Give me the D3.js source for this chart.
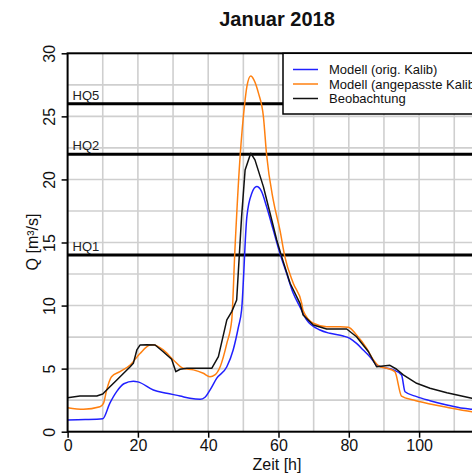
<!DOCTYPE html>
<html><head><meta charset="utf-8">
<script src="https://cdn.jsdelivr.net/npm/d3@7"></script>
<style>body{margin:0;background:#fff}svg{display:block}text{font-family:"Liberation Sans",Arial,sans-serif}</style>
</head><body>
<svg id="c" width="472" height="475"></svg>
<script>
const title = "Januar 2018";
const xLabel = "Zeit [h]";
const yLabel = "Q [m³/s]";
const xTicks = [0, 20, 40, 60, 80, 100];
const yTicks = [0, 5, 10, 15, 20, 25, 30];
const seriesNames = ["Modell (orig. Kalib)", "Modell (angepasste Kalib)", "Beobachtung"];
const seriesColors = ["#2020ff", "#ff8010", "#111111"];
const hqNames = ["HQ1", "HQ2", "HQ5"];
const hqValues = [14, 22, 26];

const tBlue = [0, 5, 10, 12, 14, 16, 18.7, 20, 24.4, 28.2, 32, 34.8, 37.7, 39.1, 40.5, 42.4, 45.3, 47.1, 48.6, 49.5, 51, 52.4, 53.8, 55.2, 56.6, 58.5, 60.4, 62.3, 64.2, 66.1, 68, 71.8, 74.6, 78.4, 80.3, 82.2, 84.1, 86, 87.9, 89.8, 92.7, 95, 96, 99.3, 103.1, 107.9, 112.6, 115, 120];
const qBlue = [0.93, 0.96, 1.03, 2.25, 3.2, 3.8, 4.0, 3.95, 3.3, 3.05, 2.83, 2.65, 2.57, 2.73, 3.3, 4.23, 5.15, 6.48, 8.3, 9.65, 17.05, 18.9, 19.43, 19.03, 17.85, 16.0, 14.15, 12.56, 10.97, 9.9, 8.86, 8.06, 7.8, 7.59, 7.4, 7.0, 6.48, 5.95, 5.29, 5.1, 4.9, 4.5, 3.17, 2.78, 2.46, 2.12, 1.85, 1.78, 1.65];

const tOrange = [0, 4.5, 9.2, 10.2, 11.1, 12.5, 14.9, 17.8, 20.6, 23.4, 24.3, 27.2, 30.1, 32.9, 35.8, 38.6, 40.5, 41.9, 43.4, 45.3, 46.7, 47.6, 49, 50.5, 51, 52.1, 53, 54.3, 55.7, 56.6, 58.5, 60.4, 61.8, 64.2, 66.6, 67, 69.9, 73.7, 77.5, 79.9, 82.2, 85.1, 87, 88.9, 90.8, 93.1, 95, 98.4, 103.1, 107.9, 115, 120];
const qOrange = [1.9, 1.78, 1.98, 2.25, 3.3, 4.36, 4.76, 5.29, 6.2, 6.87, 6.9, 6.48, 5.69, 5.03, 4.9, 4.63, 4.36, 4.5, 5.15, 7.0, 8.86, 14.4, 21.5, 26.3, 27.36, 28.2, 27.9, 26.84, 25.0, 22.0, 18.37, 16.0, 13.88, 11.77, 10.18, 9.6, 8.6, 8.33, 8.33, 8.28, 7.67, 6.61, 5.69, 5.15, 5.03, 4.76, 2.83, 2.51, 2.2, 1.93, 1.59, 1.45];

const tObs = [0, 3.5, 8.3, 10, 11.1, 14, 17.8, 18.7, 19.7, 20.6, 22.5, 24.9, 27.2, 29.6, 30.8, 32, 33.9, 37.7, 41, 42.9, 45.3, 46.7, 48.1, 49.5, 50.5, 52.1, 53.3, 55.7, 57.6, 59.5, 60.9, 63.3, 66.1, 67, 69.9, 73.7, 79.4, 82.2, 85.6, 87.9, 89.8, 91.7, 93.6, 95.5, 99.3, 103.1, 107.9, 115, 120];
const qObs = [2.7, 2.83, 2.83, 2.99, 3.3, 4.1, 5.15, 5.42, 6.48, 6.87, 6.9, 6.87, 6.34, 5.74, 4.76, 4.95, 5.03, 5.03, 5.03, 5.95, 8.86, 9.52, 10.44, 17.05, 20.75, 22.08, 21.55, 19.43, 17.32, 15.2, 13.88, 11.77, 10.18, 9.25, 8.46, 8.14, 8.14, 7.53, 6.34, 5.15, 5.21, 5.26, 4.95, 4.5, 3.84, 3.44, 3.09, 2.65, 2.45];

const svg = d3.select("#c");
const L = 67.6, T = 53.3, B = 431.7;
const x = d3.scaleLinear().domain([0, 120]).range([L, L + 120 * 3.515]);
const y = d3.scaleLinear().domain([0, 30]).range([B, T]);
const R = x(120);

const defs = svg.append("defs");
defs.append("clipPath").attr("id", "clip").append("rect")
  .attr("x", L).attr("y", T).attr("width", R - L).attr("height", B - T);

// grid
const g = svg.append("g");
g.selectAll(".gx").data(d3.range(10, 120, 10)).join("line")
  .attr("x1", d => x(d)).attr("x2", d => x(d)).attr("y1", T).attr("y2", B)
  .attr("stroke", "#cfcfcf").attr("stroke-width", 1.6);
g.selectAll(".gy").data(d3.range(2.5, 30, 2.5)).join("line")
  .attr("x1", L).attr("x2", R).attr("y1", d => y(d)).attr("y2", d => y(d))
  .attr("stroke", "#cfcfcf").attr("stroke-width", 1.6);

// HQ lines
hqValues.forEach((v, i) => {
  svg.append("line").attr("x1", L).attr("x2", R).attr("y1", y(v)).attr("y2", y(v))
    .attr("stroke", "#000").attr("stroke-width", 3);
  svg.append("text").attr("x", L + 5).attr("y", y(v) - 4).attr("font-size", 13)
    .attr("fill", "#222").text(hqNames[i]);
});

// lines
const data = [[tBlue, qBlue], [tOrange, qOrange], [tObs, qObs]];
const plotG = svg.append("g").attr("clip-path", "url(#clip)");
[0, 1, 2].forEach(i => {
  const pts = data[i][0].map((t, j) => [t, data[i][1][j]]);
  const line = d3.line().x(d => x(d[0])).y(d => y(d[1]))
    .curve(i === 2 ? d3.curveLinear : d3.curveMonotoneX);
  plotG.append("path").attr("d", line(pts)).attr("fill", "none")
    .attr("stroke", seriesColors[i]).attr("stroke-width", 1.5)
    .attr("stroke-linejoin", "round");
});

// box
svg.append("rect").attr("x", L).attr("y", T).attr("width", R - L).attr("height", B - T)
  .attr("fill", "none").attr("stroke", "#000").attr("stroke-width", 2);

// axes
const xa = svg.append("g").attr("transform", `translate(0,${B})`)
  .call(d3.axisBottom(x).tickValues(xTicks).tickSize(6).tickSizeOuter(0).tickFormat(d3.format("d")));
xa.select(".domain").remove();
xa.selectAll("line").attr("stroke", "#000").attr("stroke-width", 1.5);
xa.selectAll("text").attr("font-size", 16).attr("fill", "#111").attr("dy", "0.95em").attr("y", 4);

const ya = svg.append("g").attr("transform", `translate(${L},0)`)
  .call(d3.axisLeft(y).tickValues(yTicks).tickSize(6).tickSizeOuter(0).tickFormat(d3.format("d")));
ya.select(".domain").remove();
ya.selectAll("line").attr("stroke", "#000").attr("stroke-width", 1.5);
ya.selectAll("text").attr("font-size", 16).attr("fill", "#111")
  .attr("text-anchor", "middle").attr("x", 0).attr("dy", 0)
  .attr("transform", "translate(-12.5,0) rotate(-90)").attr("y", 0)
  .attr("dominant-baseline", "auto");

// axis titles
svg.append("text").attr("x", 277).attr("y", 470).attr("text-anchor", "middle")
  .attr("font-size", 16).attr("fill", "#111").text(xLabel);
svg.append("text").attr("transform", `translate(38,242) rotate(-90)`).attr("text-anchor", "middle")
  .attr("font-size", 16).attr("fill", "#111").text(yLabel);

// title
svg.append("text").attr("x", 277).attr("y", 26).attr("text-anchor", "middle")
  .attr("font-size", 20).attr("font-weight", "bold").attr("fill", "#111").text(title);

// legend
const lg = svg.append("g");
lg.append("rect").attr("x", 283).attr("y", T).attr("width", 230).attr("height", 114 - T)
  .attr("fill", "#fff").attr("stroke", "#000").attr("stroke-width", 1.5);
const rowsY = [69.5, 84, 98.5];
seriesNames.forEach((n, i) => {
  lg.append("line").attr("x1", 293).attr("x2", 318).attr("y1", rowsY[i]).attr("y2", rowsY[i])
    .attr("stroke", seriesColors[i]).attr("stroke-width", 1.5);
  lg.append("text").attr("x", 329).attr("y", rowsY[i] + 4.5).attr("font-size", 13)
    .attr("fill", "#111").text(n);
});
</script>
</body></html>
